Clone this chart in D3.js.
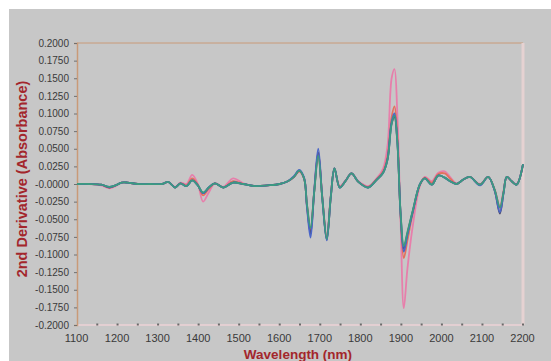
<!DOCTYPE html>
<html>
<head>
<meta charset="utf-8">
<script src="https://cdn.jsdelivr.net/npm/d3@7"></script>
<style>
  html, body { margin: 0; padding: 0; background: #fff; }
  svg { display: block; font-family: "Liberation Sans", Arial, sans-serif; }
</style>
</head>
<body>
<div id="chart"></div>
<script>
// wavelengths (nm) shared by every spectrum
const wavelengths = [1100, 1130, 1160, 1180, 1195, 1210, 1225, 1250, 1280, 1310,
  1325, 1342, 1355, 1370, 1384, 1398, 1411, 1425, 1440, 1461,
  1485, 1510, 1540, 1570, 1600, 1620, 1635, 1648, 1660, 1667,
  1676, 1685, 1695, 1705, 1716, 1726, 1735, 1748, 1762, 1777,
  1794, 1818, 1839, 1855, 1866, 1876, 1883, 1890, 1898, 1906,
  1915, 1928, 1946, 1958, 1975, 1991, 2007, 2020, 2036, 2052,
  2069, 2094, 2114, 2130, 2143, 2152, 2160, 2172, 2184, 2200];

// 2nd derivative values, one array per spectrum
const pinkValues = [0.000, 0.000, -0.002, -0.006, -0.003, 0.002, 0.002, 0.000, 0.000, 0.000,
  0.003, -0.004, 0.002, 0.000, 0.013, 0.000, -0.025, -0.012, 0.001, -0.004,
  0.008, 0.001, -0.003, -0.002, 0.000, 0.004, 0.010, 0.018, 0.008, -0.030,
  -0.068, -0.010, 0.044, -0.018, -0.076, -0.016, 0.021, -0.003, 0.005, 0.015,
  0.004, -0.003, 0.008, 0.022, 0.055, 0.150, 0.163, 0.100, -0.050, -0.176,
  -0.120, -0.060, -0.002, 0.010, 0.004, 0.016, 0.018, 0.010, 0.001, 0.006,
  0.010, 0.000, 0.010, -0.008, -0.032, -0.010, 0.010, 0.004, 0.000, 0.028];

const orangeValues = [0.000, 0.000, -0.001, -0.005, -0.002, 0.002, 0.002, 0.000, 0.000, 0.000,
  0.003, -0.005, 0.001, -0.002, 0.008, -0.001, -0.016, -0.007, 0.001, -0.005,
  0.004, 0.000, -0.003, -0.002, 0.000, 0.004, 0.010, 0.018, 0.008, -0.029,
  -0.064, -0.011, 0.042, -0.019, -0.077, -0.017, 0.022, -0.004, 0.004, 0.015,
  0.003, -0.004, 0.007, 0.018, 0.040, 0.095, 0.110, 0.070, -0.045, -0.105,
  -0.080, -0.042, -0.001, 0.009, 0.002, 0.014, 0.015, 0.008, 0.000, 0.006,
  0.010, -0.001, 0.010, -0.008, -0.034, -0.011, 0.010, 0.004, -0.001, 0.028];

const blueValues = [0.000, 0.000, -0.001, -0.004, -0.002, 0.002, 0.002, 0.000, 0.000, 0.000,
  0.003, -0.005, 0.001, -0.003, 0.005, -0.002, -0.013, -0.005, 0.001, -0.005,
  0.002, 0.000, -0.003, -0.002, 0.000, 0.004, 0.011, 0.020, 0.009, -0.032,
  -0.076, -0.010, 0.050, -0.020, -0.080, -0.018, 0.022, -0.005, 0.004, 0.015,
  0.003, -0.005, 0.006, 0.016, 0.036, 0.088, 0.100, 0.062, -0.042, -0.096,
  -0.072, -0.040, 0.000, 0.008, -0.001, 0.012, 0.009, 0.004, 0.000, 0.006,
  0.010, -0.002, 0.010, -0.009, -0.040, -0.013, 0.010, 0.004, -0.001, 0.028];

const navyValues = [0.000, 0.000, -0.001, -0.005, -0.002, 0.002, 0.002, 0.000, 0.000, 0.000,
  0.003, -0.005, 0.001, -0.003, 0.005, -0.002, -0.013, -0.005, 0.001, -0.005,
  0.002, 0.000, -0.003, -0.002, 0.000, 0.004, 0.010, 0.019, 0.008, -0.030,
  -0.070, -0.011, 0.045, -0.020, -0.079, -0.018, 0.022, -0.005, 0.004, 0.015,
  0.003, -0.005, 0.006, 0.016, 0.035, 0.086, 0.095, 0.060, -0.041, -0.092,
  -0.070, -0.039, 0.000, 0.008, -0.001, 0.012, 0.009, 0.004, 0.000, 0.006,
  0.010, -0.001, 0.010, -0.009, -0.042, -0.013, 0.010, 0.004, -0.001, 0.028];

const greenValues = [0.000, 0.000, -0.001, -0.004, -0.002, 0.002, 0.002, 0.000, 0.000, 0.000,
  0.003, -0.005, 0.001, -0.003, 0.005, -0.002, -0.012, -0.005, 0.001, -0.005,
  0.002, 0.000, -0.003, -0.002, 0.000, 0.004, 0.010, 0.019, 0.008, -0.028,
  -0.062, -0.012, 0.040, -0.020, -0.078, -0.018, 0.022, -0.005, 0.004, 0.015,
  0.003, -0.005, 0.006, 0.016, 0.035, 0.085, 0.097, 0.060, -0.040, -0.088,
  -0.068, -0.038, 0.000, 0.008, -0.001, 0.012, 0.009, 0.004, 0.000, 0.006,
  0.010, -0.001, 0.010, -0.008, -0.033, -0.012, 0.010, 0.004, -0.001, 0.028];

const seriesColors = ["#e77fab", "#e4705e", "#4a66c8", "#4e4e72", "#3c9a80"];
const seriesList = [pinkValues, orangeValues, navyValues, blueValues, greenValues];
const seriesColorFor = [seriesColors[0], seriesColors[1], seriesColors[3], seriesColors[2], seriesColors[4]];

// axis ticks
const yTicks = [0.2, 0.175, 0.15, 0.125, 0.1, 0.075, 0.05, 0.025, 0,
  -0.025, -0.05, -0.075, -0.1, -0.125, -0.15, -0.175, -0.2];
const yTickLabels = ["0.2000", "0.1750", "0.1500", "0.1250", "0.1000", "0.0750", "0.0500", "0.0250", "-0.0000",
  "-0.0250", "-0.0500", "-0.0750", "-0.1000", "-0.1250", "-0.1500", "-0.1750", "-0.2000"];
const xTicks = [1100, 1200, 1300, 1400, 1500, 1600, 1700, 1800, 1900, 2000, 2100, 2200];
const xTickLabels = ["1100", "1200", "1300", "1400", "1500", "1600", "1700", "1800", "1900", "2000", "2100", "2200"];
const xMinorTicks = [1150, 1200, 1250, 1300, 1350, 1400, 1450, 1500, 1550, 1600, 1650, 1700,
  1750, 1800, 1850, 1900, 1950, 2000, 2050, 2100, 2150, 2200];

const width = 551, height = 361;
const plotLeft = 77, plotRight = 523, plotTop = 43, plotBottom = 325;

const svg = d3.select("#chart").append("svg")
  .attr("width", width)
  .attr("height", height);

// grey panel
svg.append("rect")
  .attr("x", 9).attr("y", 9)
  .attr("width", width - 9).attr("height", height - 9)
  .attr("fill", "#c7c7c7");

const x = d3.scaleLinear().domain([1100, 2200]).range([plotLeft, plotRight]);
const y = d3.scaleLinear().domain([-0.2, 0.2]).range([plotBottom, plotTop]);

// frame: top line orange, right and bottom pale pink
svg.append("line")
  .attr("x1", plotLeft).attr("x2", plotRight)
  .attr("y1", plotTop).attr("y2", plotTop)
  .attr("stroke", "#c99a78").attr("stroke-width", 1);
svg.append("line")
  .attr("x1", plotRight).attr("x2", plotRight)
  .attr("y1", plotTop).attr("y2", plotBottom)
  .attr("stroke", "#e6d2d2").attr("stroke-width", 3);
svg.append("line")
  .attr("x1", plotLeft).attr("x2", plotRight)
  .attr("y1", plotBottom).attr("y2", plotBottom)
  .attr("stroke", "#e3cfd2").attr("stroke-width", 2);

// minor tick dots on the x axis
svg.selectAll("rect.minor")
  .data(xMinorTicks)
  .enter().append("rect")
  .attr("class", "minor")
  .attr("x", d => x(d) - 1)
  .attr("y", plotBottom - 1.5)
  .attr("width", 2).attr("height", 2)
  .attr("fill", "#6a6a6a");

// y axis
const yAxis = svg.append("g")
  .attr("transform", `translate(${plotLeft},0)`)
  .call(d3.axisLeft(y)
    .tickValues(yTicks)
    .tickFormat((d, i) => yTickLabels[i])
    .tickSize(3)
    .tickPadding(5));
yAxis.select(".domain").attr("stroke", "#c99a78").attr("stroke-width", 1.5);
yAxis.selectAll(".tick line").attr("stroke", "#707070");
yAxis.selectAll(".tick text")
  .attr("fill", "#3a3a3a")
  .style("font-size", "10px");

// x axis labels
const xAxis = svg.append("g")
  .attr("transform", `translate(0,${plotBottom})`)
  .call(d3.axisBottom(x)
    .tickValues(xTicks)
    .tickFormat((d, i) => xTickLabels[i])
    .tickSize(0)
    .tickPadding(9));
xAxis.select(".domain").remove();
xAxis.selectAll(".tick text")
  .attr("fill", "#3a3a3a")
  .attr("dx", "-1")
  .style("font-size", "11px");

// spectra
const line = d3.line()
  .x((d, i) => x(wavelengths[i]))
  .y(d => y(d))
  .curve(d3.curveCatmullRom.alpha(0.5));

svg.append("g")
  .selectAll("path")
  .data(seriesList)
  .enter().append("path")
  .attr("d", d => line(d))
  .attr("fill", "none")
  .attr("stroke", (d, i) => seriesColorFor[i])
  .attr("stroke-width", 1.8)
  .attr("stroke-linejoin", "round");

// axis titles
svg.append("text")
  .attr("x", (plotLeft + plotRight) / 2 - 2)
  .attr("y", 359)
  .attr("text-anchor", "middle")
  .attr("fill", "#a3262c")
  .style("font-size", "13.5px")
  .style("font-weight", "bold")
  .text("Wavelength (nm)");

svg.append("text")
  .attr("transform", "translate(27,179) rotate(-90)")
  .attr("text-anchor", "middle")
  .attr("fill", "#a3262c")
  .style("font-size", "14.5px")
  .style("font-weight", "bold")
  .text("2nd Derivative (Absorbance)");
</script>
</body>
</html>
